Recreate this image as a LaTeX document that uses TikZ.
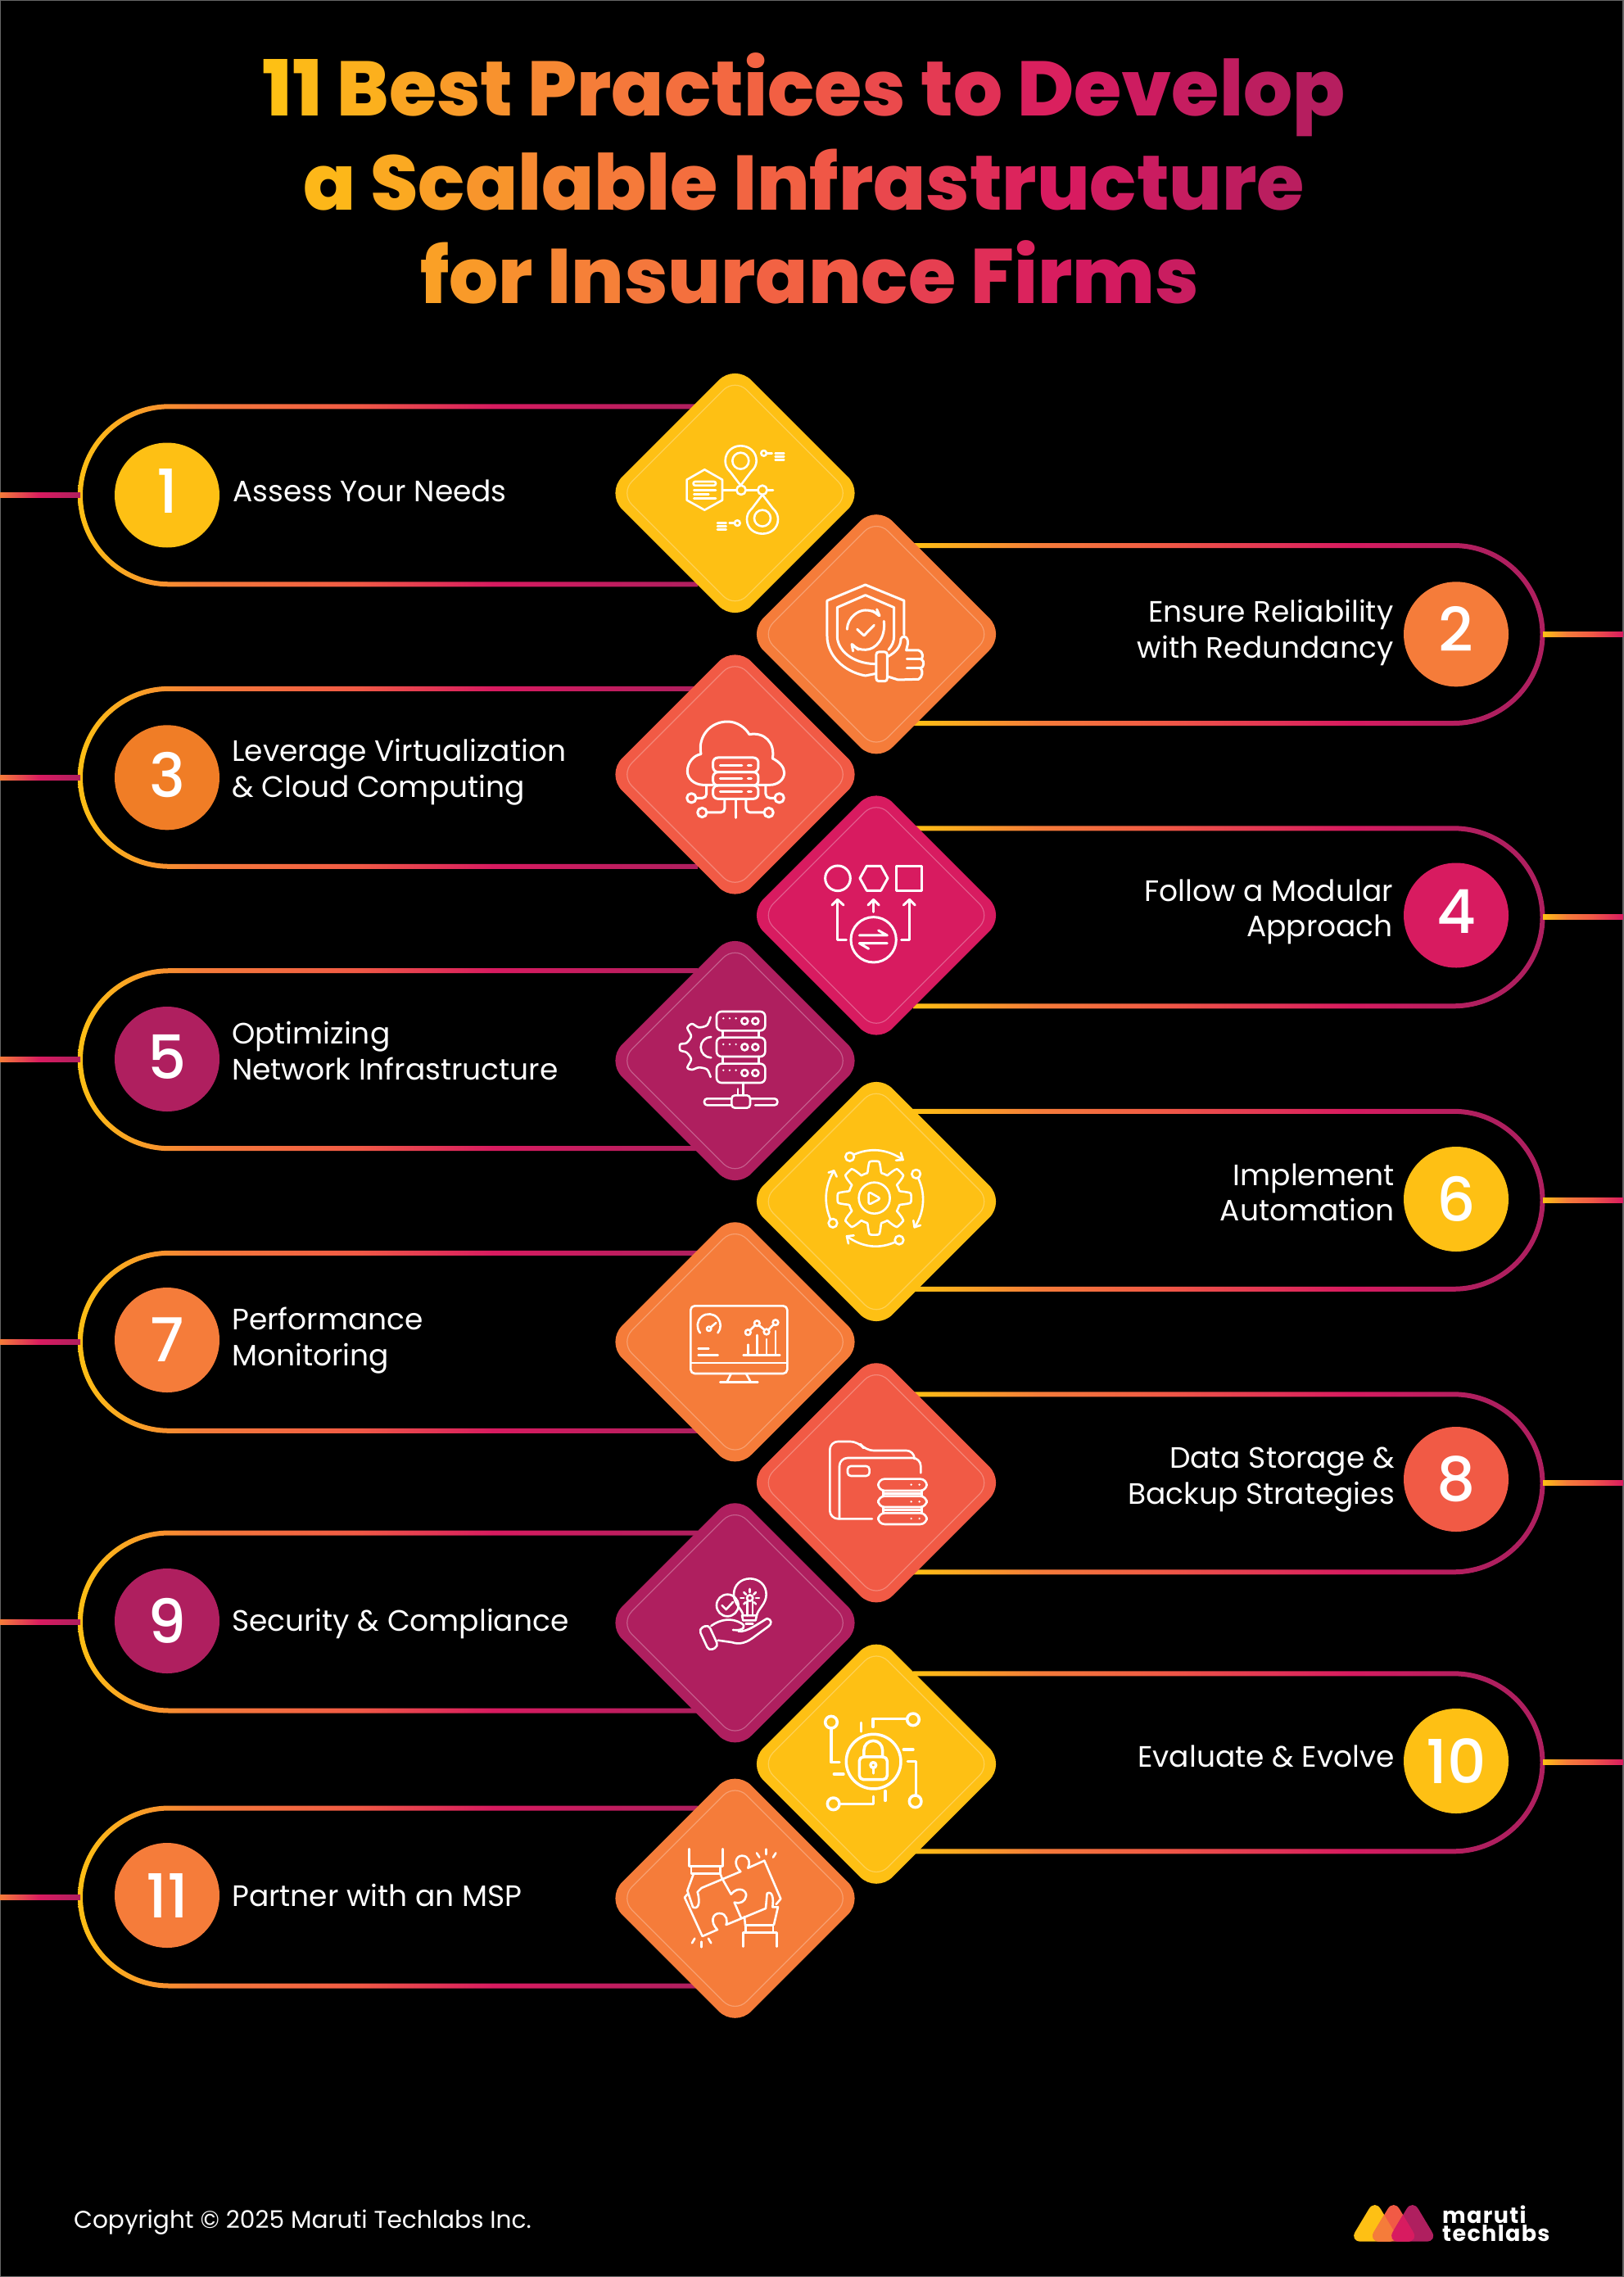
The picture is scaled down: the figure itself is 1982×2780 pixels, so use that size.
\documentclass[tikz,border=0pt]{standalone}
\usepackage{fontspec}
\setmainfont{Poppins}
\newfontfamily\medfont{Poppins Medium}
\newfontfamily\headfont{Poppins ExtraBold}
\newfontfamily\logofont[LetterSpace=5]{Poppins}
\usetikzlibrary{positioning}

\definecolor{cyellow}{HTML}{FEC014}
\definecolor{corange}{HTML}{F57C3A}
\definecolor{cdeep}{HTML}{F07D26}
\definecolor{cred}{HTML}{F15A45}
\definecolor{cpink}{HTML}{D81B60}
\definecolor{cpurple}{HTML}{AF1F5F}

\pgfdeclarehorizontalshading{leftpill}{100bp}{color(0bp)=(cyellow);color(25bp)=(cyellow);color(35bp)=(corange);color(47.5bp)=(cred);color(58.5bp)=(cpink);color(75bp)=(cpurple);color(100bp)=(cpurple)}
\pgfdeclarehorizontalshading{rightpill}{100bp}{color(0bp)=(cyellow);color(25bp)=(cyellow);color(35bp)=(corange);color(44.5bp)=(cred);color(59.5bp)=(cpink);color(69.5bp)=(cpurple);color(100bp)=(cpurple)}
\pgfdeclarehorizontalshading{leftstub}{100bp}{color(0bp)=(corange);color(25bp)=(corange);color(50bp)=(cpink);color(75bp)=(cpurple);color(100bp)=(cpurple)}
\pgfdeclarehorizontalshading{rightstub}{100bp}{color(0bp)=(cyellow);color(25bp)=(cyellow);color(40bp)=(corange);color(55bp)=(cred);color(75bp)=(cpink);color(100bp)=(cpink)}

\newcommand{\leftpill}[1]{%
\shade[shading=leftpill] (852,#1-111.5) -- (206.5,#1-111.5) arc[start angle=270,end angle=90,radius=111.5] -- (852,#1+111.5) -- (852,#1+105.5) -- (206.5,#1+105.5) arc[start angle=90,end angle=270,radius=105.5] -- (852,#1-105.5) -- cycle;
\shade[shading=leftstub] (0,#1-3) rectangle (98,#1+3);}
\newcommand{\rightpill}[1]{%
\shade[shading=rightpill] (1115,#1-111.5) -- (1775,#1-111.5) arc[start angle=270,end angle=450,radius=111.5] -- (1115,#1+111.5) -- (1115,#1+105.5) -- (1775,#1+105.5) arc[start angle=90,end angle=-90,radius=105.5] -- (1115,#1-105.5) -- cycle;
\shade[shading=rightstub] (1884,#1-3) rectangle (1982,#1+3);}

% title letters take their colour from where they stand on the page
\ExplSyntaxOn
\cs_new_protected:Npn \grad_colour:n #1
 {
  \fp_compare:nNnTF {#1} < {30}
   { \edef\gradpct{\fp_eval:n {round((#1)/30*100,1)}} \colorlet{gradc}{corange!\gradpct!cyellow} }
   {
    \fp_compare:nNnTF {#1} < {50}
     { \edef\gradpct{\fp_eval:n {round(((#1)-30)/20*100,1)}} \colorlet{gradc}{cred!\gradpct!corange} }
     {
      \fp_compare:nNnTF {#1} < {72}
       { \edef\gradpct{\fp_eval:n {round(((#1)-50)/22*100,1)}} \colorlet{gradc}{cpink!\gradpct!cred} }
       { \edef\gradpct{\fp_eval:n {round(((#1)-72)/28*100,1)}} \colorlet{gradc}{cpurple!\gradpct!cpink} }
     }
   }
 }
\NewDocumentCommand{\gradline}{m}
 {
  \hbox_set:Nn \l_tmpa_box {#1}
  \dim_set:Nn \l_tmpa_dim {\box_wd:N \l_tmpa_box}
  \tl_clear:N \l_tmpa_tl
  \str_map_inline:nn {#1}
   {
    \hbox_set:Nn \l_tmpb_box {\l_tmpa_tl}
    \group_begin:
    \grad_colour:n {min(100,(985+\dim_to_fp:n {\box_wd:N \l_tmpb_box - \l_tmpa_dim/2}-322)/1318*100)}
    \color{gradc}\scan_stop: ##1
    \group_end:
    \tl_put_right:Nn \l_tmpa_tl {##1}
   }
 }
\ExplSyntaxOff

\tikzset{logodrop/.style={insert path={(536+#1,195) -- (629+#1,350) -- (443+#1,350) -- cycle}}}

\begin{document}
\begin{tikzpicture}[x=1pt,y=-1pt]

\tikzstyle{num}=[circle,minimum size=128pt,inner sep=0pt,text=white,font={\medfont\fontsize{74}{74}\selectfont}];
\tikzstyle{lab}=[text=white,inner sep=0pt,font={\fontsize{36}{43.5}\selectfont}];
\tikzstyle{labl}=[lab,anchor=base west,align=left];
\tikzstyle{labr}=[lab,anchor=base east,align=right];
\tikzstyle{dia}=[rectangle,rotate=45,minimum size=223pt,inner sep=0pt,rounded corners=28pt];
\tikzstyle{diain}=[rectangle,rotate=45,minimum size=198pt,inner sep=0pt,rounded corners=20pt,draw=white,draw opacity=0.28,line width=1.2pt];
\tikzstyle{ttl}=[inner sep=0pt,anchor=base,font={\headfont\fontsize{94.4}{94.4}\selectfont}];
\tikzstyle{ico}=[x=0.3333pt,y=-0.3333pt,white,line width=2.6pt,line cap=round,line join=round];

\useasboundingbox (0,0) rectangle (1982,2780);
\fill[black] (0,0) rectangle (1982,2780);
\draw[line width=2pt,color=black!60] (0,0) rectangle (1982,2780);

\node[ttl] (h1) at (981.5,141.7) {\gradline{11 Best Practices to Develop}};
\node[ttl] (h2) at (981.5,256.7) {\gradline{a Scalable Infrastructure}};
\node[ttl] (h3) at (988.5,370) {\gradline{for Insurance Firms}};

\leftpill{604.8}
\rightpill{774.5}
\leftpill{949.3}
\rightpill{1119.8}
\leftpill{1293.7}
\rightpill{1465.3}
\leftpill{1638.3}
\rightpill{1810.8}
\leftpill{1980}
\rightpill{2151.8}
\leftpill{2316}

\node[dia,fill=cyellow] (d1) at (897.5,602) {};
\node[diain] (d1i) at (d1) {};
\node[dia,fill=corange] (d2) at (1070,774.3) {};
\node[diain] (d2i) at (d2) {};
\node[dia,fill=cred] (d3) at (897.5,945.5) {};
\node[diain] (d3i) at (d3) {};
\node[dia,fill=cpink] (d4) at (1070,1117.5) {};
\node[diain] (d4i) at (d4) {};
\node[dia,fill=cpurple] (d5) at (897.5,1295) {};
\node[diain] (d5i) at (d5) {};
\node[dia,fill=cyellow] (d6) at (1070,1467) {};
\node[diain] (d6i) at (d6) {};
\node[dia,fill=corange] (d7) at (897.5,1638.3) {};
\node[diain] (d7i) at (d7) {};
\node[dia,fill=cred] (d8) at (1070,1810.3) {};
\node[diain] (d8i) at (d8) {};
\node[dia,fill=cpurple] (d9) at (897.5,1981.3) {};
\node[diain] (d9i) at (d9) {};
\node[dia,fill=cyellow] (d10) at (1070,2153.7) {};
\node[diain] (d10i) at (d10) {};
\node[dia,fill=corange] (d11) at (897.5,2317.7) {};
\node[diain] (d11i) at (d11) {};

\node[num,fill=cyellow,text depth=10.6pt] (n1) at (204,604.5) {1};
\node[labl] (t1) at (284,612) {Assess Your Needs};
\node[num,fill=corange,text depth=13pt] (n2) at (1778,774.3) {2};
\node[labr] (t2) at (1701.5,803) {Ensure Reliability\\with Redundancy};
\node[num,fill=cdeep,text depth=7pt] (n3) at (204,949.3) {3};
\node[labl] (t3) at (283,973) {Leverage Virtualization\\\& Cloud Computing};
\node[num,fill=cpink,text depth=10pt] (n4) at (1778,1117.5) {4};
\node[labr] (t4) at (1701,1143.5) {Follow a Modular\\Approach};
\node[num,fill=cpurple,text depth=5pt] (n5) at (204,1293) {5};
\node[labl] (t5) at (283,1318) {Optimizing\\Network Infrastructure};
\node[num,fill=cyellow] (n6) at (1778,1464) {6};
\node[labr] (t6) at (1703,1490.5) {Implement\\Automation};
\node[num,fill=corange] (n7) at (204,1636) {7};
\node[labl] (t7) at (283,1667) {Performance\\Monitoring};
\node[num,fill=cred] (n8) at (1778,1806) {8};
\node[labr] (t8) at (1703,1836) {Data Storage \&\\Backup Strategies};
\node[num,fill=cpurple] (n9) at (204,1979) {9};
\node[labl] (t9) at (283,1991.5) {Security \& Compliance};
\node[num,fill=cyellow] (n10) at (1778,2150) {10};
\node[labr] (t10) at (1703,2157.5) {Evaluate \& Evolve};
\node[num,fill=corange] (n11) at (204,2314) {11};
\node[labl] (t11) at (283,2327.5) {Partner with an MSP};

\node[lab,anchor=base west,font={\fontsize{29.6}{36}\selectfont}] (cp) at (90,2720) {Copyright © 2025 Maruti Techlabs Inc.};

% logo
\begin{scope}[shift={(1500,2620)},x=0.3333pt,y=-0.3333pt,rounded corners=14pt]
\fill[cyellow,logodrop=0];
\fill[cred,logodrop=69];
\fill[cpurple,logodrop=138];
\begin{scope}
\clip[logodrop=0];
\fill[corange,logodrop=69];
\end{scope}
\begin{scope}
\clip[logodrop=69];
\fill[cpink,logodrop=138];
\end{scope}
\end{scope}
\node[lab,anchor=base west,font={\logofont\bfseries\fontsize{27}{27}\selectfont}] (m1) at (1761,2714.3) {maruti};
\node[lab,anchor=base west,font={\logofont\bfseries\fontsize{27}{27}\selectfont}] (m2) at (1761,2736) {techlabs};

% icon 1
\begin{scope}[shift={(720,440)},ico]
\draw (553,458) -- (515,408) .. controls (500,395) and (497,380) .. (497,368) .. controls (497,335) and (523,313) .. (553,313) .. controls (585,313) and (611,335) .. (611,368) .. controls (611,380) and (606,395) .. (591,408) -- cycle;
\draw (553,368) circle (30);
\draw (633,492) -- (595,542) .. controls (580,555) and (576,570) .. (576,582) .. controls (576,615) and (602,635) .. (633,635) .. controls (664,635) and (690,615) .. (690,582) .. controls (690,570) and (686,555) .. (671,542) -- cycle;
\draw (633,578) circle (30);
\draw (555,475) circle (17);
\draw (633,475) circle (17);
\draw (487,475) -- (538,475);
\draw (572,475) -- (616,475);
\draw (650,475) -- (672,475);
\draw (421,400) -- (486,437) -- (486,512) -- (421,548) -- (356,512) -- (356,437) -- cycle;
\draw[rounded corners=2pt] (380,444) rectangle (462,458);
\draw (382,475) -- (462,475);
\draw (382,490) -- (436,490);
\draw (382,505) -- (462,505);
\draw (638,340) circle (10);
\draw (650,340) -- (668,340);
\draw (680,340) -- (712,340);
\draw (680,352) -- (712,352);
\draw (680,364) -- (712,364);
\draw (541,596) circle (10);
\draw (512,596) -- (530,596);
\draw (468,596) -- (500,596);
\draw (468,608) -- (500,608);
\draw (468,620) -- (500,620);
\end{scope}

% icon 2
\begin{scope}[shift={(720,440)},ico,line width=3pt]
\draw (1152,1005) -- (1152,880) -- (1010,822) -- (870,880) -- (870,1010) .. controls (870,1080) and (930,1140) .. (1010,1155) -- (1045,1148);
\draw (1095,1060) .. controls (1108,1045) and (1115,1030) .. (1115,1010) -- (1115,905) -- (1010,860) -- (907,905) -- (907,1010) .. controls (907,1060) and (960,1110) .. (1045,1112);
\draw (943,985) .. controls (945,940) and (985,915) .. (1010,915) .. controls (1030,915) and (1045,920) .. (1060,935);
\draw (1036,917) -- (1062,935) -- (1052,912);
\draw (1078,955) .. controls (1085,1015) and (1050,1060) .. (1010,1060) .. controls (990,1060) and (975,1055) .. (962,1040);
\draw (985,1060) -- (960,1040) -- (965,1065);
\draw (980,985) -- (1005,1008) -- (1042,970);
\draw[rounded corners=3pt] (1050,1068) rectangle (1090,1175);
\draw (1092,1085) .. controls (1120,1070) and (1140,1050) .. (1140,1020) .. controls (1145,1005) and (1170,1010) .. (1165,1040) -- (1160,1062) -- (1205,1062) .. controls (1222,1065) and (1222,1090) .. (1215,1095) .. controls (1228,1100) and (1225,1125) .. (1212,1128) .. controls (1222,1135) and (1220,1160) .. (1205,1168) -- (1130,1170) -- (1092,1158);
\draw (1162,1095) -- (1215,1095);
\draw (1162,1128) -- (1212,1128);
\end{scope}

% icon 3
\begin{scope}[shift={(720,790)},ico,line width=3pt]
\draw (452,505) -- (415,505) .. controls (380,503) and (358,480) .. (358,455) .. controls (358,420) and (385,395) .. (408,392) .. controls (395,330) and (440,273) .. (505,273) .. controls (540,273) and (570,295) .. (585,320) .. controls (640,310) and (680,350) .. (670,408) .. controls (695,420) and (713,440) .. (713,460) .. controls (713,485) and (690,505) .. (660,505) -- (618,505);
\draw[rounded corners=6pt] (452,405) rectangle (618,458);
\draw[rounded corners=6pt] (452,458) rectangle (618,507);
\draw[rounded corners=6pt] (452,507) rectangle (618,556);
\draw (478,433) -- (558,433);
\draw (478,482) -- (558,482);
\draw (478,530) -- (558,530);
\draw (580,433) -- (592,433);
\draw (580,482) -- (592,482);
\draw (580,530) -- (592,530);
\draw[rounded corners=5pt] (428,510) -- (428,553) -- (392,553);
\draw (373,553) circle (17);
\draw[rounded corners=5pt] (645,510) -- (645,553) -- (677,553);
\draw (695,553) circle (17);
\draw[rounded corners=5pt] (495,560) -- (495,606) -- (430,606);
\draw (412,606) circle (17);
\draw[rounded corners=5pt] (573,560) -- (573,606) -- (639,606);
\draw (656,606) circle (17);
\draw (535,560) -- (535,625);
\end{scope}

% icon 4
\begin{scope}[shift={(720,790)},ico,line width=3pt]
\draw (909,847) circle (46);
\draw (990,847) -- (1015,802) -- (1067,802) -- (1092,847) -- (1067,892) -- (1015,892) -- cycle;
\draw (1125,802) rectangle (1218,892);
\draw (940,1072) -- (908,1072) -- (908,925);
\draw (888,945) -- (908,925) -- (930,945);
\draw (1040,970) -- (1040,925);
\draw (1020,945) -- (1040,925) -- (1060,945);
\draw (1142,1072) -- (1172,1072) -- (1172,925);
\draw (1150,945) -- (1172,925) -- (1192,945);
\draw (1040,1072) circle (83);
\draw (988,1056) -- (1090,1056) -- (1058,1038);
\draw (1090,1085) -- (988,1085) -- (1022,1105);
\end{scope}

% icon 5
\begin{scope}[shift={(720,1140)},ico]
\draw[rounded corners=6pt] (465,285) rectangle (643,355);
\draw[rounded corners=6pt] (465,380) rectangle (643,450);
\draw[rounded corners=6pt] (465,476) rectangle (643,546);
\draw (488,355) -- (488,380);
\draw (620,355) -- (620,380);
\draw (488,450) -- (488,476);
\draw (620,450) -- (620,476);
\fill (490,310) circle (4);
\fill (513,310) circle (4);
\fill (536,310) circle (4);
\draw (568,320) circle (12);
\draw (607,320) circle (12);
\fill (490,405) circle (4);
\fill (513,405) circle (4);
\fill (536,405) circle (4);
\draw (568,415) circle (12);
\draw (607,415) circle (12);
\fill (490,500) circle (4);
\fill (513,500) circle (4);
\fill (536,500) circle (4);
\draw (568,510) circle (12);
\draw (607,510) circle (12);
\draw (563,546) -- (563,592);
\draw (543,568) -- (543,592);
\draw[rounded corners=4pt] (520,592) rectangle (588,638);
\draw[rounded corners=3.5pt] (520,628) -- (420,628) -- (420,604) -- (520,604);
\draw[rounded corners=3.5pt] (606,628) -- (688,628) -- (688,604) -- (590,604);
\draw plot[smooth] coordinates {(443,305) (430,335) (400,343) (375,330) (358,345) (372,375) (355,400) (332,405) (332,427) (355,435) (372,460) (358,490) (375,498) (400,490) (430,497) (443,525)};
\draw (445,378) arc[start angle=270,end angle=90,radius=38];
\end{scope}

% icon 6
\begin{scope}[shift={(720,1140)},ico]
\draw plot[domain=0:360,samples=181,smooth] ({1043+(115+20*max(-1,min(1,2*cos(8*\x))))*cos(\x)},{968+(115+20*max(-1,min(1,2*cos(8*\x))))*sin(\x)}) -- cycle;
\draw (1043,968) circle (57);
\draw[rounded corners=3pt] (1022,945) -- (1066,970) -- (1022,993) -- cycle;
\draw (953,817) circle (16);
\draw (970,808) .. controls (1025,785) and (1085,785) .. (1148,828);
\draw (1122,830) -- (1148,828) -- (1140,802);
\draw (1196,880) circle (16);
\draw (1204,896) .. controls (1230,950) and (1228,1020) .. (1190,1075);
\draw (1186,1050) -- (1190,1075) -- (1212,1068);
\draw (1134,1122) circle (16);
\draw (1118,1130) .. controls (1060,1155) and (1000,1150) .. (942,1108);
\draw (968,1105) -- (942,1108) -- (948,1135);
\draw (891,1060) circle (16);
\draw (882,1045) .. controls (858,990) and (860,925) .. (895,868);
\draw (875,875) -- (895,868) -- (905,890);
\end{scope}

% icon 7
\begin{scope}[shift={(720,1490)},ico]
\draw[rounded corners=5pt] (370,313) rectangle (724,561);
\draw (370,522) -- (724,522);
\draw (518,561) -- (503,592);
\draw (573,561) -- (590,592);
\draw (478,592) -- (616,592);
\draw (405,412) arc[start angle=140,end angle=400,radius=42];
\draw (437,397) circle (8);
\draw (443,392) -- (463,375);
\draw (398,470) -- (436,470);
\draw (398,493) -- (470,493);
\draw (580,455) -- (580,493);
\draw (613,420) -- (613,493);
\draw (648,435) -- (648,493);
\draw (681,405) -- (681,493);
\draw (563,493) -- (697,493);
\draw (580,410) circle (10);
\draw (613,377) circle (10);
\draw (648,408) circle (10);
\draw (681,374) circle (10);
\draw (587,403) -- (606,384);
\draw (620,384) -- (641,401);
\draw (655,401) -- (674,381);
\end{scope}

% icon 8
\begin{scope}[shift={(720,1490)},ico]
\draw[rounded corners=10pt] (1035,1093) -- (880,1093) -- (880,810) -- (985,810) -- (1010,843) -- (1190,843) -- (1190,868);
\draw[rounded corners=10pt] (915,1093) -- (915,870) -- (1213,870) -- (1213,925);
\draw[rounded corners=4pt] (945,900) rectangle (1025,936);
\draw[rounded corners=8pt] (1057,947) rectangle (1235,990);
\draw[rounded corners=8pt] (1057,1010) rectangle (1235,1050);
\draw[rounded corners=8pt] (1057,1072) rectangle (1235,1113);
\draw (1075,990) -- (1075,1010);
\draw (1217,990) -- (1217,1010);
\draw (1075,1000) -- (1217,1000);
\draw (1075,1050) -- (1075,1072);
\draw (1217,1050) -- (1217,1072);
\draw (1075,1060) -- (1217,1060);
\fill (1178,968) circle (4);
\fill (1208,968) circle (4);
\fill (1178,1030) circle (4);
\fill (1208,1030) circle (4);
\fill (1178,1092) circle (4);
\fill (1208,1092) circle (4);
\end{scope}

% icon 9
\begin{scope}[shift={(720,1840)},ico]
\draw (562,397) .. controls (560,375) and (528,355) .. (528,320) .. controls (528,285) and (555,262) .. (587,262) .. controls (620,262) and (647,285) .. (647,320) .. controls (647,355) and (615,375) .. (612,397);
\draw (505,360) circle (40);
\draw (485,360) -- (500,375) -- (525,348);
\draw (587,333) circle (11);
\draw (578,345) -- (578,397);
\draw (597,345) -- (597,397);
\draw (558,397) -- (612,397) -- (608,415) -- (562,415) -- cycle;
\draw (572,427) -- (598,427);
\draw (587,300) -- (587,312);
\draw (565,312) -- (573,320);
\draw (609,312) -- (601,320);
\draw (553,333) -- (565,333);
\draw (609,333) -- (621,333);
\draw (565,355) -- (571,349);
\draw (609,355) -- (603,349);
\draw[rounded corners=5pt] (400,447) -- (435,430) -- (472,510) -- (437,527) -- cycle;
\draw (445,435) .. controls (480,410) and (520,405) .. (555,425) .. controls (575,435) and (565,455) .. (525,450);
\draw (545,455) .. controls (575,460) and (620,425) .. (650,408) .. controls (668,412) and (668,428) .. (655,437) -- (610,470) .. controls (575,498) and (550,505) .. (520,495) -- (470,488);
\end{scope}

% icon 10
\begin{scope}[shift={(720,1840)},ico,line width=3.5pt]
\draw (1040,932) circle (100);
\draw[rounded corners=5pt] (988,915) rectangle (1090,998);
\draw (1005,915) -- (1005,890) arc[start angle=180,end angle=360,radius=34] -- (1073,915);
\draw (1039,945) circle (10);
\draw (1039,955) -- (1039,975);
\draw (885,788) circle (22);
\draw (885,810) -- (885,935) -- (915,935);
\draw (1038,805) -- (1038,775) -- (1163,775);
\draw (1185,778) circle (22);
\draw (994,790) -- (994,822);
\draw (1150,888) -- (1185,888);
\draw (1165,932) -- (1195,932) -- (1195,1053);
\draw (1193,1078) circle (22);
\draw (1083,1040) -- (1083,1075);
\draw (1040,1060) -- (1040,1088) -- (918,1088);
\draw (893,1087) circle (22);
\draw (895,978) -- (930,978);
\end{scope}

% icon 11
\begin{scope}[shift={(720,2000)},ico]
\draw (365,772) -- (365,835) -- (487,835) -- (487,772);
\draw (372,835) -- (372,862) -- (478,862) -- (478,835);
\draw (380,865) -- (358,925) -- (378,985) .. controls (395,995) and (408,975) .. (395,930) -- (410,915) -- (553,855) .. controls (525,830) and (535,797) .. (558,797) .. controls (585,797) and (590,825) .. (580,842) -- (640,815) -- (700,955) -- (683,975);
\draw (478,862) -- (485,880) -- (518,938) .. controls (545,905) and (578,925) .. (573,945) .. controls (570,965) and (550,975) .. (530,968) -- (555,1025);
\draw (358,938) -- (348,950) -- (413,1092) -- (468,1068) .. controls (440,1040) and (450,1008) .. (475,1008) .. controls (505,1008) and (505,1040) .. (500,1050) -- (645,990);
\draw (645,990) -- (650,935) .. controls (668,925) and (675,950) .. (670,985) -- (690,985) -- (675,1050);
\draw (567,1020) -- (570,1052);
\draw (572,1052) -- (672,1052) -- (672,1078) -- (572,1078) -- cycle;
\draw (562,1130) -- (562,1078) -- (685,1078) -- (685,1130);
\draw (612,787) -- (622,803);
\draw (646,773) -- (646,792);
\draw (682,787) -- (672,803);
\draw (375,1117) -- (385,1100);
\draw (410,1112) -- (410,1132);
\draw (445,1117) -- (435,1100);
\end{scope}

\end{tikzpicture}
\end{document}
